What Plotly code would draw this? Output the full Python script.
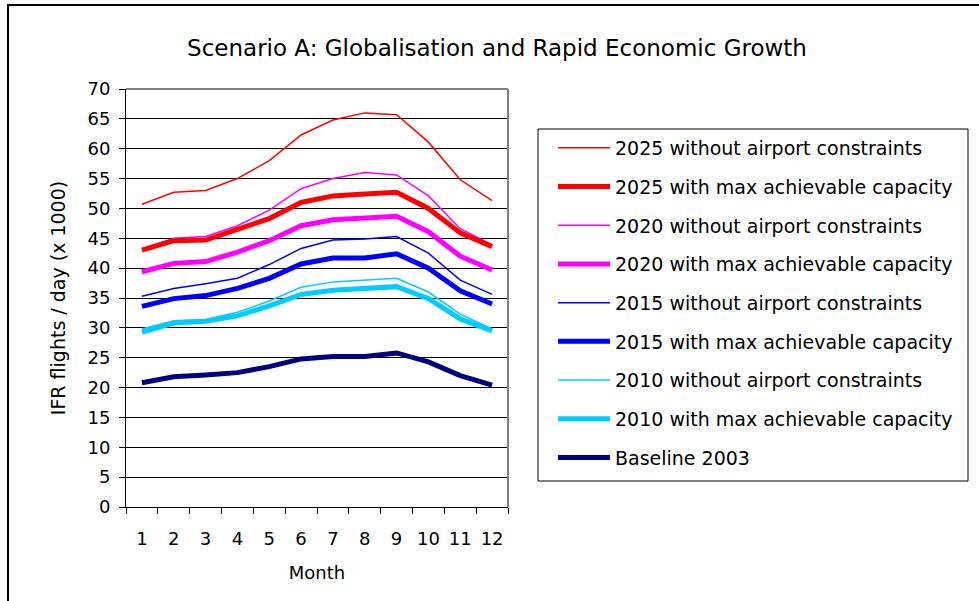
import plotly.graph_objects as go

months = ["1", "2", "3", "4", "5", "6", "7", "8", "9", "10", "11", "12"]

s2025_unconstrained = [50.7, 52.7, 53.0, 55.0, 58.0, 62.3, 64.8, 66.0, 65.7, 61.1, 54.8, 51.3]
s2025_capacity = [43.0, 44.6, 44.7, 46.4, 48.3, 51.0, 52.1, 52.4, 52.7, 50.0, 45.9, 43.6]
s2020_unconstrained = [43.2, 45.0, 45.3, 47.1, 49.7, 53.3, 55.0, 56.0, 55.6, 52.1, 46.6, 43.9]
s2020_capacity = [39.4, 40.8, 41.1, 42.7, 44.6, 47.1, 48.1, 48.4, 48.7, 46.1, 42.0, 39.7]
s2015_unconstrained = [35.3, 36.6, 37.4, 38.3, 40.6, 43.3, 44.7, 44.9, 45.3, 42.5, 38.0, 35.6]
s2015_capacity = [33.6, 34.9, 35.4, 36.6, 38.3, 40.7, 41.7, 41.7, 42.4, 40.0, 36.2, 34.0]
s2010_unconstrained = [29.8, 31.2, 31.4, 32.6, 34.5, 36.8, 37.7, 38.0, 38.3, 36.0, 32.3, 29.8]
s2010_capacity = [29.3, 30.8, 31.1, 32.0, 33.7, 35.6, 36.3, 36.6, 36.9, 34.9, 31.5, 29.5]
baseline_2003 = [20.8, 21.8, 22.1, 22.5, 23.5, 24.8, 25.2, 25.2, 25.8, 24.3, 22.0, 20.4]

series_names = [
    "2025 without airport constraints",
    "2025 with max achievable capacity",
    "2020 without airport constraints",
    "2020 with max achievable capacity",
    "2015 without airport constraints",
    "2015 with max achievable capacity",
    "2010 without airport constraints",
    "2010 with max achievable capacity",
    "Baseline 2003",
]
series_values = [
    s2025_unconstrained, s2025_capacity,
    s2020_unconstrained, s2020_capacity,
    s2015_unconstrained, s2015_capacity,
    s2010_unconstrained, s2010_capacity,
    baseline_2003,
]
series_colors = ["#FF0000", "#FF0000", "#FF00FF", "#FF00FF", "#0000FF", "#0000FF",
                 "#00CCFF", "#00CCFF", "#000080"]
series_widths = [1.5, 5, 1.5, 5, 1.5, 5, 1.5, 5, 5]

y_ticks = list(range(0, 75, 5))

FONT = "'DejaVu Sans', Arial, sans-serif"

# pixel geometry of the plot area
L, R, T, B = 126, 508, 89, 507
W, H = 979, 601
PW, PH = R - L, B - T


def px_x(x):
    return (x - L) / PW


def px_y(y):
    return (B - y) / PH


fig = go.Figure()
for i in reversed(range(len(series_names))):
    fig.add_trace(go.Scatter(
        x=months, y=series_values[i], mode="lines", name=series_names[i],
        line=dict(color=series_colors[i], width=series_widths[i]),
        legendgroup=f"g{i}", legendrank=i + 1,
    ))

fig.update_layout(
    width=W, height=H,
    margin=dict(l=L, r=W - R, t=T, b=H - B, pad=0),
    paper_bgcolor="white", plot_bgcolor="white",
    font=dict(family=FONT, size=18, color="black"),
    title=dict(text="Scenario A: Globalisation and Rapid Economic Growth",
               x=497 / W, xanchor="center", xref="container",
               y=1 - 48 / H, yanchor="middle", yref="container",
               font=dict(family=FONT, size=23, color="black")),
    showlegend=True,
    legend=dict(x=px_x(553), xanchor="left", y=px_y(129), yanchor="top",
                bgcolor="rgba(0,0,0,0)", borderwidth=0,
                font=dict(family=FONT, size=19, color="black"),
                tracegroupgap=11, traceorder="grouped", itemwidth=52),
    xaxis=dict(type="category", range=[-0.5, 11.5], tickson="boundaries",
               ticks="outside", ticklen=6, tickcolor="black", tickwidth=1,
               tickangle=0, ticklabelstandoff=15,
               showline=True, linecolor="black", linewidth=1,
               showgrid=False, zeroline=False,
               tickfont=dict(family=FONT, size=18),
               title=dict(text="Month", standoff=18, font=dict(family=FONT, size=18))),
    yaxis=dict(range=[0, 70], tickvals=y_ticks, ticks="outside", ticklen=6,
               tickcolor="black", tickwidth=1, ticklabelstandoff=5,
               showline=True, linecolor="black", linewidth=1,
               showgrid=True, gridcolor="black", gridwidth=1, zeroline=False,
               tickfont=dict(family=FONT, size=18),
               title=dict(text="IFR flights / day (x 1000)", standoff=16,
                          font=dict(family=FONT, size=19))),
    shapes=[
        dict(type="rect", xref="paper", yref="paper",
             x0=px_x(8), x1=px_x(1000), y0=px_y(640), y1=px_y(5),
             line=dict(color="black", width=2), layer="below"),
        dict(type="line", xref="paper", yref="paper", x0=0, x1=1, y0=1, y1=1,
             line=dict(color="#808080", width=2), layer="above"),
        dict(type="line", xref="paper", yref="paper", x0=1, x1=1, y0=0, y1=1,
             line=dict(color="#808080", width=2), layer="above"),
        dict(type="rect", xref="paper", yref="paper",
             x0=px_x(538), x1=px_x(968), y0=px_y(481), y1=px_y(129),
             line=dict(color="black", width=1), fillcolor="rgba(0,0,0,0)"),
    ],
)

fig.write_html(
    "out.html",
    config={"displayModeBar": False},
    post_script="document.body.style.margin='0px';document.body.style.overflow='hidden';",
)
